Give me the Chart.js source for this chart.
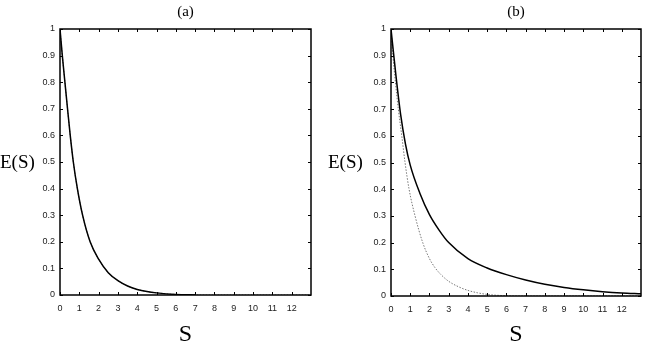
<!DOCTYPE html>
<html>
<head>
<meta charset="utf-8">
<script src="https://cdn.jsdelivr.net/npm/chart.js@4"></script>
<style>
  body { margin: 0; background: #fff; }
  #wrap { position: relative; width: 653px; height: 347px; }
  canvas { position: absolute; top: 0; }
  .ylab { position: absolute; top: 151px; font: 19px "Liberation Serif", serif; color: #000; }
</style>
</head>
<body>
<div id="wrap">
  <canvas id="chartA" width="326" height="347" style="left:0"></canvas>
  <canvas id="chartB" width="327" height="347" style="left:326px"></canvas>
  <div class="ylab" style="left:0">E(S)</div>
  <div class="ylab" style="left:328px">E(S)</div>
</div>
<script>
// panel (a): solid curve, dotted one lying under it
const sA = [0, 0.12, 0.255, 0.39, 0.53, 0.69, 0.9, 1.17, 1.56, 2, 2.5, 3, 3.5, 4, 4.5, 5, 6, 7];
const eA = [1, 0.9, 0.8, 0.7, 0.6, 0.5, 0.4, 0.3, 0.2, 0.135, 0.084, 0.054, 0.034, 0.021, 0.013, 0.008, 0.002, 0];
const sA2 = [0, 0.12, 0.255, 0.39, 0.53, 0.69, 0.9, 1.17, 1.56, 2, 2.5, 3, 3.5, 4, 4.5, 5, 6, 7, 13];
const eA2 = [1, 0.9, 0.8, 0.7, 0.6, 0.5, 0.4, 0.3, 0.2, 0.135, 0.084, 0.054, 0.034, 0.021, 0.013, 0.008, 0.002, 0, 0];

// panel (b): slow solid curve and fast dotted one
const sB = [0, 0.25, 0.5, 0.75, 1, 1.5, 2, 2.5, 3, 4, 5, 6, 7, 8, 9, 10, 11, 12, 13];
const eB = [1, 0.83, 0.68, 0.57, 0.49, 0.385, 0.305, 0.247, 0.2, 0.14, 0.105, 0.08, 0.06, 0.044, 0.032, 0.023, 0.016, 0.011, 0.008];
const sB2 = [0, 0.1, 0.23, 0.38, 0.56, 0.73, 0.94, 1.25, 1.65, 2, 2.3, 2.6, 3, 3.5, 4, 4.5, 5, 6, 7, 13];
const eB2 = [1, 0.9, 0.8, 0.7, 0.6, 0.5, 0.4, 0.3, 0.2, 0.14, 0.105, 0.08, 0.055, 0.035, 0.021, 0.012, 0.006, 0.001, 0, 0];

const xTicks = [0, 1, 2, 3, 4, 5, 6, 7, 8, 9, 10, 11, 12];

function pts(xs, ys) {
  return xs.map((x, i) => ({ x: x, y: ys[i] }));
}

// box round the plot and small ticks pointing inwards
const frameTicks = {
  id: 'frameTicks',
  afterDatasetsDraw(chart) {
    const { ctx, chartArea: a, scales: { x, y } } = chart;
    ctx.save();
    ctx.strokeStyle = '#000';
    ctx.lineWidth = 1;
    ctx.beginPath();
    x.ticks.forEach(t => {
      const px = Math.round(x.getPixelForValue(t.value)) + 0.5;
      ctx.moveTo(px, a.bottom); ctx.lineTo(px, a.bottom - 3);
      ctx.moveTo(px, a.top); ctx.lineTo(px, a.top + 3);
    });
    y.ticks.forEach(t => {
      const py = Math.round(y.getPixelForValue(t.value)) + 0.5;
      ctx.moveTo(a.left, py); ctx.lineTo(a.left + 3, py);
      ctx.moveTo(a.right, py); ctx.lineTo(a.right - 3, py);
    });
    ctx.stroke();
    ctx.lineWidth = 1.5;
    ctx.strokeRect(a.left, a.top, a.right - a.left, a.bottom - a.top);
    ctx.restore();
  }
};

function makeChart(id, title, solid, dotted, padRight, yWidth, xHeight) {
  return new Chart(id, {
    type: 'line',
    data: {
      datasets: [{
        data: solid,
        borderColor: '#000',
        borderWidth: 1.5,
        pointRadius: 0,
        cubicInterpolationMode: 'monotone'
      }, {
        data: dotted,
        borderColor: '#777',
        borderWidth: 1,
        borderDash: [1.5, 1.5],
        pointRadius: 0,
        cubicInterpolationMode: 'monotone'
      }]
    },
    options: {
      responsive: false,
      animation: false,
      layout: { padding: { left: 0, right: padRight, top: 0, bottom: 0 } },
      plugins: {
        legend: { display: false },
        tooltip: { enabled: false },
        title: {
          display: true,
          fullSize: false,
          text: title,
          color: '#000',
          font: { family: 'Liberation Serif', size: 15, weight: 'normal' },
          padding: { top: 3, bottom: 8 }
        }
      },
      scales: {
        x: {
          type: 'linear',
          min: 0,
          max: 13,
          grid: { display: false, drawTicks: false },
          border: { display: false },
          afterFit: s => { s.height = xHeight; },
          afterBuildTicks: s => { s.ticks = xTicks.map(v => ({ value: v })); },
          ticks: {
            color: '#222',
            padding: 8,
            maxRotation: 0,
            autoSkip: false,
            font: { family: 'Liberation Sans', size: 9 }
          },
          title: {
            display: true,
            text: 'S',
            color: '#000',
            padding: 0,
            font: { family: 'Liberation Serif', size: 24, lineHeight: 1 }
          }
        },
        y: {
          min: 0,
          max: 1,
          grid: { display: false, drawTicks: false },
          border: { display: false },
          afterFit: s => { s.width = yWidth; },
          ticks: {
            stepSize: 0.1,
            color: '#222',
            padding: 5,
            font: { family: 'Liberation Sans', size: 9 },
            callback: v => String(+v.toFixed(1))
          }
        }
      }
    },
    plugins: [frameTicks]
  });
}

makeChart('chartA', '(a)', pts(sA, eA), pts(sA2, eA2), 15, 60, 52);
makeChart('chartB', '(b)', pts(sB, eB), pts(sB2, eB2), 12, 65, 51);
</script>
</body>
</html>
